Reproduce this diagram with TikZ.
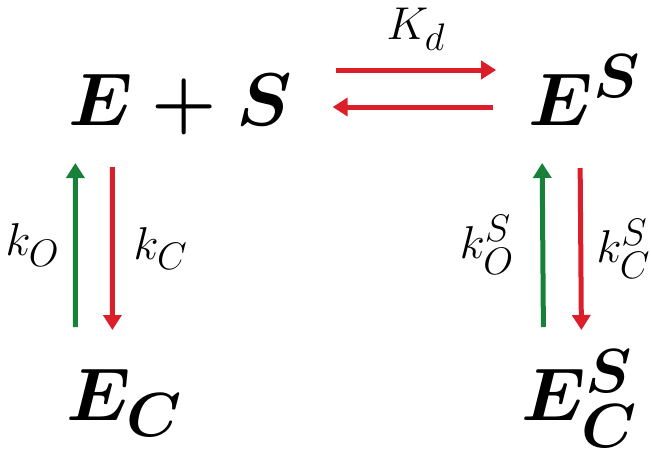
\documentclass[tikz,border=0pt]{standalone}
\usepackage{amsmath}
\usepackage{tikz}
\usetikzlibrary{arrows.meta, calc}
\definecolor{fwdred}{HTML}{DC1E2A}
\definecolor{bckgreen}{HTML}{17813A}
\tikzset{
  bigterm/.style = {inner sep=0pt, anchor=base, align=center, scale=3,
                    font=\Huge\boldmath},
  rate/.style    = {inner sep=0pt, scale=1.85, font=\Huge},
  redarr/.style  = {-{Triangle[length=15pt, width=18pt]}, line width=5pt, draw=fwdred},
  greenarr/.style= {-{Triangle[length=15pt, width=18pt]}, line width=5pt, draw=bckgreen},
}
\begin{document}
\begin{tikzpicture}[x=1pt, y=1pt]
    \useasboundingbox (0,0) rectangle (651,-464);
    % states
    \node[bigterm, minimum width=76.7pt] (es)  at (180,-125) {$E+S$};
    \node[bigterm, minimum width=36.7pt] (esb) at (585,-125) {$E^{S}$};
    \node[bigterm, minimum width=40pt]   (ec)  at (125,-420) {$E_{C}$};
    \node[bigterm, minimum width=40pt]   (ecs) at (580,-420) {$E_{C}^{S}$};
    % binding
    \draw[redarr] ($(es.base east)+(40,55)$) -- node[rate, above=8pt] (kd) {$K_{d}$}
        ($(esb.base west)+(-32,55)$);
    \draw[redarr] ($(esb.base west)+(-35,18)$) -- ($(es.base east)+(37,18)$);
    % opening / closing, free enzyme
    \draw[greenarr] ($(ec.base west)+(11,93)$) -- node[rate, left=6pt] (ko) {$k_{O}$}
        ($(es.base west)+(11,-38)$);
    \draw[redarr] ($(es.base west)+(48,-42)$) -- node[rate, right=9pt] (kc) {$k_{C}$}
        ($(ec.base west)+(48,90)$);
    % opening / closing, bound enzyme
    \draw[greenarr] ($(ecs.base west)+(24,93)$) -- node[rate, left=13pt] (kos) {$k_{O}^{S}$}
        ($(esb.base west)+(14,-38)$);
    \draw[redarr] ($(esb.base west)+(52,-43)$) -- node[rate, right=6pt] (kcs) {$k_{C}^{S}$}
        ($(ecs.base west)+(62,90)$);
\end{tikzpicture}
\end{document}
